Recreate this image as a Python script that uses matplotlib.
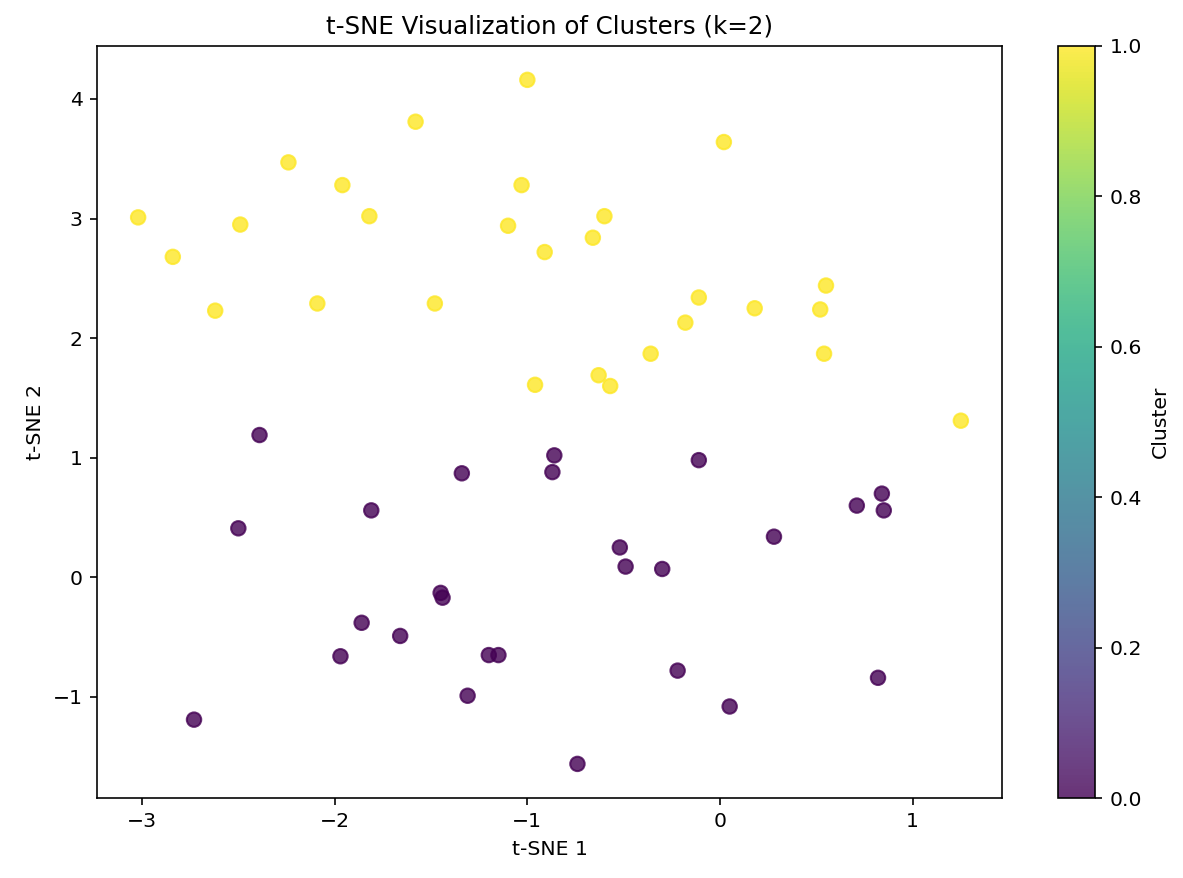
import numpy as np
import matplotlib
matplotlib.use("Agg")
from matplotlib import pyplot as plt

# cluster 1 (yellow)
x_c1 = [-3.02, -2.84, -2.62, -2.49, -2.24, -2.09, -1.96, -1.82, -1.58, -1.48,
        -1.10, -1.03, -1.00, -0.91, -0.96, -0.66, -0.60, -0.63, -0.57, -0.36,
        -0.18, -0.11, 0.02, 0.18, 0.52, 0.55, 0.54, 1.25]
y_c1 = [3.01, 2.68, 2.23, 2.95, 3.47, 2.29, 3.28, 3.02, 3.81, 2.29,
        2.94, 3.28, 4.16, 2.72, 1.61, 2.84, 3.02, 1.69, 1.60, 1.87,
        2.13, 2.34, 3.64, 2.25, 2.24, 2.44, 1.87, 1.31]

# cluster 0 (purple)
x_c0 = [-2.39, -2.50, -2.73, -1.97, -1.86, -1.81, -1.66, -1.45, -1.44, -1.34,
        -1.31, -1.20, -1.15, -0.86, -0.87, -0.74, -0.52, -0.49, -0.30, -0.22,
        -0.11, 0.05, 0.28, 0.71, 0.84, 0.85, 0.82]
y_c0 = [1.19, 0.41, -1.19, -0.66, -0.38, 0.56, -0.49, -0.13, -0.17, 0.87,
        -0.99, -0.65, -0.65, 1.02, 0.88, -1.56, 0.25, 0.09, 0.07, -0.78,
        0.98, -1.08, 0.34, 0.60, 0.70, 0.56, -0.84]

tsne1 = np.array(x_c1 + x_c0)
tsne2 = np.array(y_c1 + y_c0)
labels = np.array([1] * len(x_c1) + [0] * len(x_c0))

fig = plt.figure(figsize=(1183 / 147, 878 / 147), dpi=147)
ax = fig.add_axes([0.082, 0.091, 0.765, 0.857])
cax = fig.add_axes([0.894, 0.091, 0.032, 0.857])

sc = ax.scatter(tsne1, tsne2, c=labels, cmap='viridis', alpha=0.8, s=50)
cb = fig.colorbar(sc, cax=cax)
cb.set_label('Cluster')

ax.set_title('t-SNE Visualization of Clusters (k=2)')
ax.set_xlabel('t-SNE 1')
ax.set_ylabel('t-SNE 2')

fig.savefig('out.png', dpi=147)
